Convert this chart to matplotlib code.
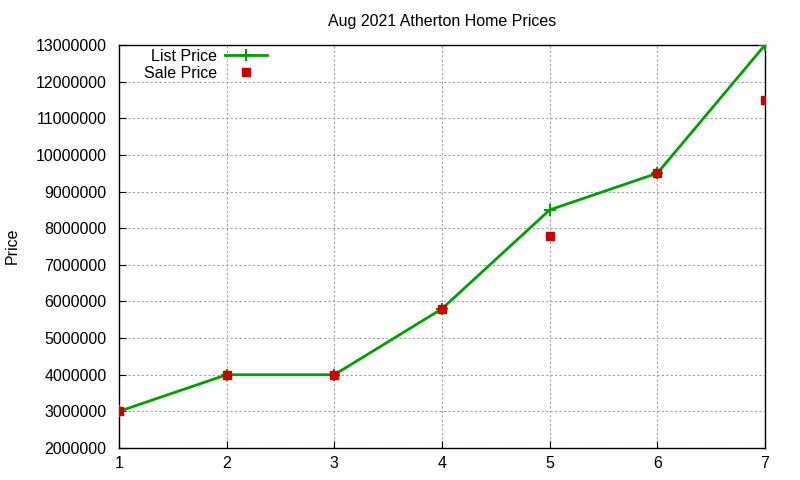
import matplotlib
matplotlib.use('Agg')
import matplotlib.pyplot as plt
from matplotlib.ticker import MultipleLocator, FormatStrFormatter

x = [1, 2, 3, 4, 5, 6, 7]
list_price = [3000000, 4000000, 4000000, 5800000, 8500000, 9500000, 13000000]
sale_price = [3000000, 4000000, 4000000, 5800000, 7800000, 9500000, 11500000]

plt.rcParams['font.family'] = ['Liberation Sans', 'DejaVu Sans']

fig = plt.figure(figsize=(8, 4.8), dpi=100)
ax = fig.add_axes([119 / 800, 1 - 448 / 480, (765 - 119) / 800, (448 - 45) / 480])

ax.plot(x, list_price, color='#00a000', lw=2, marker='+', ms=8, mew=1.5,
        label='List Price', zorder=3)
ax.plot(x, sale_price, ls='none', color='#cc0000', marker='s', ms=6,
        label='Sale Price', zorder=4)

ax.set_xlim(1, 7)
ax.set_ylim(2000000, 13000000)
ax.yaxis.set_major_locator(MultipleLocator(1000000))
ax.yaxis.set_major_formatter(FormatStrFormatter('%d'))
ax.xaxis.set_major_locator(MultipleLocator(1))
ax.grid(True, color='#a0a0a0', ls=(0, (2, 2)), lw=0.8)
ax.tick_params(direction='in', labelsize=11.5, length=5)
ax.tick_params(axis='y', pad=9)
ax.tick_params(axis='x', pad=6)
for s in ax.spines.values():
    s.set_linewidth(1)

ax.set_title('Aug 2021 Atherton Home Prices', fontsize=11.5, pad=14)
fig.text(12 / 800, 1 - 246 / 480, 'Price', rotation=90, fontsize=11.5,
         va='center', ha='center')

ax.legend(loc='upper right', bbox_to_anchor=((267 - 119) / 646, 1 - 4 / 403),
          frameon=False, markerfirst=False, fontsize=11.5, handlelength=2.6,
          handletextpad=0.55, labelspacing=0.12, borderaxespad=0, borderpad=0)

fig.savefig('out.png', dpi=100)
